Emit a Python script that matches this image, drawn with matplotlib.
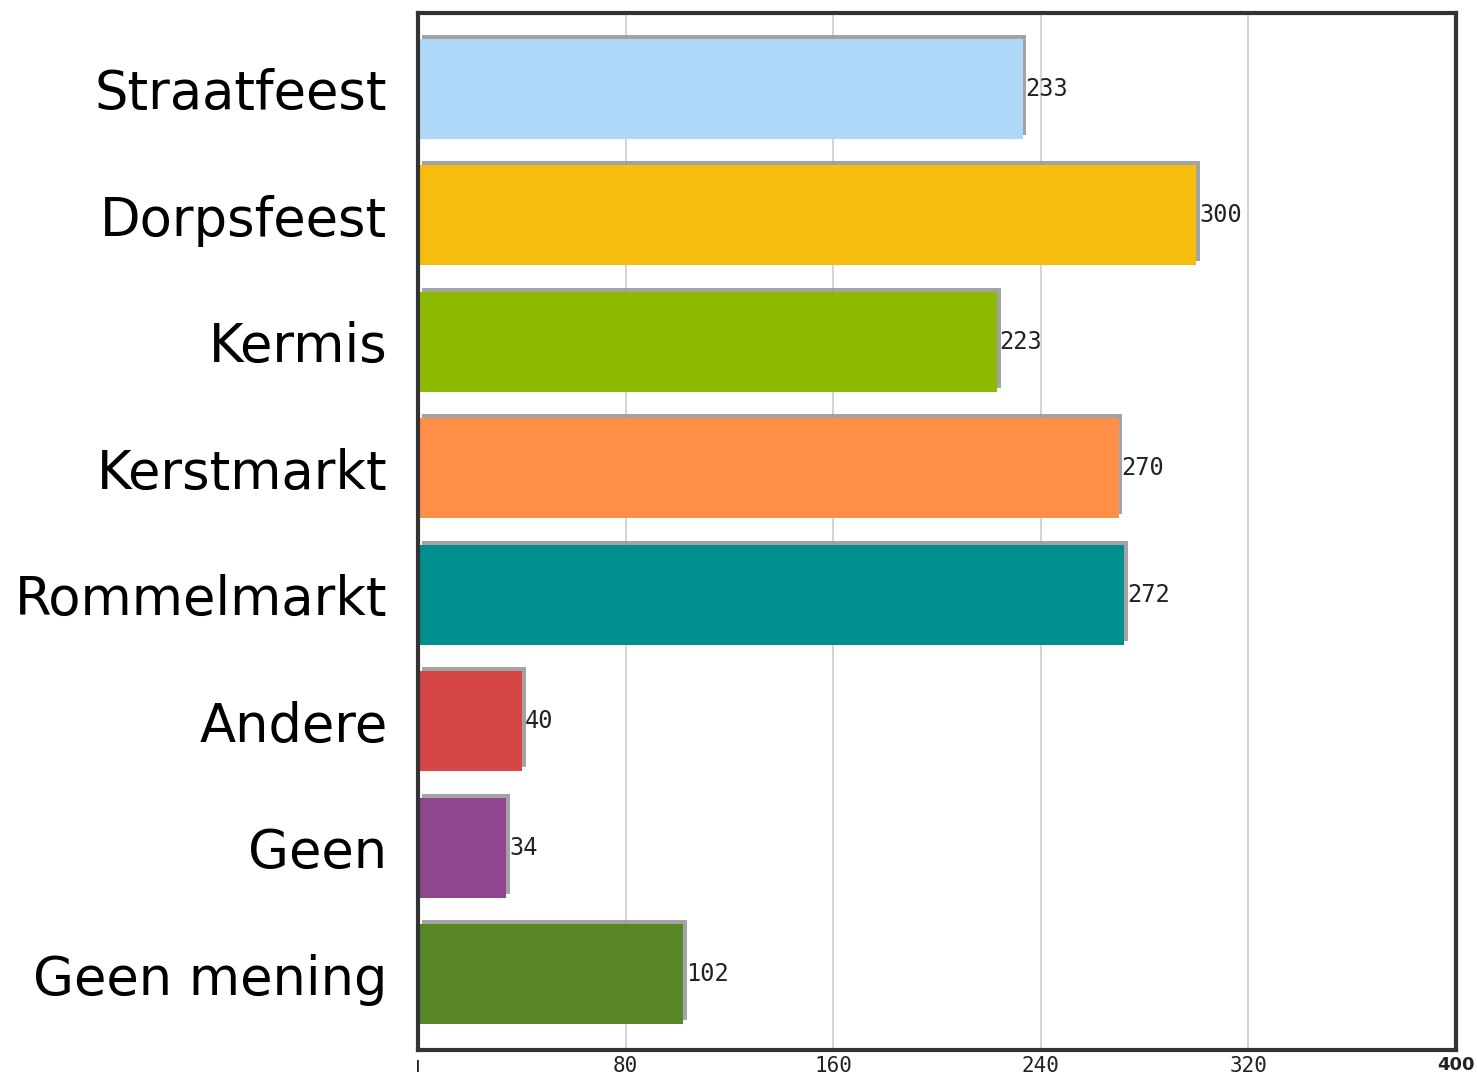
import matplotlib
matplotlib.use("Agg")
import matplotlib.pyplot as plt
import matplotlib.patheffects as pe

categories = ["Straatfeest", "Dorpsfeest", "Kermis", "Kerstmarkt",
              "Rommelmarkt", "Andere", "Geen", "Geen mening"]
values = [233, 300, 223, 270, 272, 40, 34, 102]
colors = ["#AFD8F8", "#F6BD0F", "#8BBA00", "#FF8E46",
          "#008E8E", "#D64646", "#8E468E", "#588526"]
xticks = [0, 80, 160, 240, 320, 400]
xtick_labels = ["ı", "80", "160", "240", "320", "400"]

fig = plt.figure(figsize=(14.77, 10.83), dpi=100)
ax = fig.add_axes([0.283, 0.0305, 0.7027, 0.9575])

ypos = list(range(len(categories)))
shadow = [pe.SimplePatchShadow(offset=(2.8, 2.8), shadow_rgbFace="#999999", alpha=0.9),
          pe.Normal()]
bars = ax.barh(ypos, values, height=0.79, color=colors, zorder=3)
for b in bars:
    b.set_path_effects(shadow)

for y, v in zip(ypos, values):
    ax.text(v + 1.2, y, str(v), va="center", ha="left", family="DejaVu Sans Mono",
            fontsize=17, color="#222222", zorder=4)

ax.set_xlim(0, 400)
ax.set_ylim(len(categories) - 1 + 0.6, -0.6)
ax.set_xticks(xticks)
ax.set_xticklabels(xtick_labels, fontsize=15, color="#222222", family="DejaVu Sans Mono")
first, last = ax.get_xticklabels()[0], ax.get_xticklabels()[-1]
first.set_family("DejaVu Sans")
last.set_fontweight("bold")
last.set_family("DejaVu Sans")
last.set_fontsize(13)
ax.set_yticks(ypos)
ax.set_yticklabels(categories, fontsize=38, color="black")
ax.tick_params(axis="both", length=0)
ax.tick_params(axis="y", pad=22)
ax.tick_params(axis="x", pad=4)

ax.grid(True, axis="x", color="#CCCCCC", linewidth=1.2, zorder=0)
for s in ax.spines.values():
    s.set_color("#333333")
    s.set_linewidth(3)
    s.set_zorder(5)

fig.savefig("out.png", dpi=100)
